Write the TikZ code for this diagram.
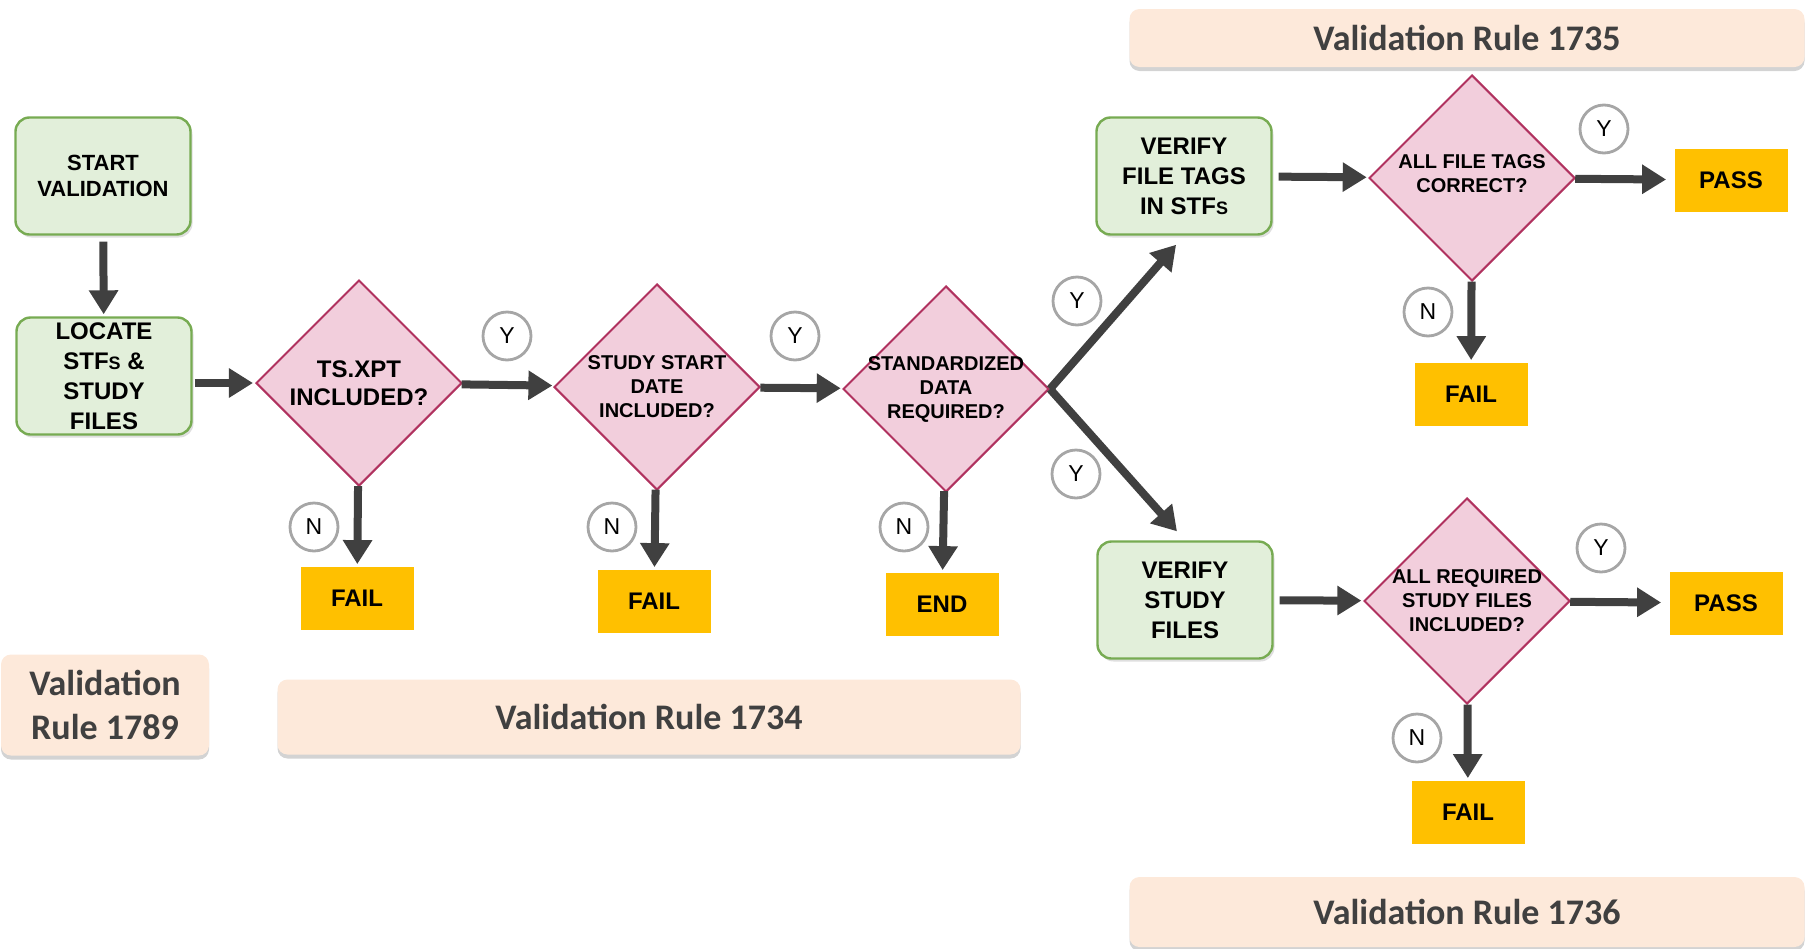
\documentclass[tikz,border=0pt]{standalone}
\usepackage{fontspec}
\setmainfont{Liberation Sans}
\newfontfamily\rulefont{Carlito}
\usetikzlibrary{shapes.geometric,arrows.meta,shadows}
\definecolor{boxgreen}{HTML}{E2EFDA}
\definecolor{linegreen}{HTML}{77AB52}
\definecolor{diafill}{HTML}{F2CEDC}
\definecolor{diaedge}{HTML}{B0325F}
\definecolor{resyellow}{HTML}{FFC000}
\definecolor{rulepeach}{HTML}{FDE9DA}
\definecolor{arrowgray}{HTML}{404040}
\definecolor{ringgray}{HTML}{A6A6A6}
\begin{document}
\begin{tikzpicture}[x=0.5pt, y=-0.5pt,
    gbox/.style={draw=linegreen, fill=boxgreen, line width=1.2pt, rounded corners=7pt,
      minimum width=87.5pt, minimum height=58.5pt, inner sep=0pt, align=center,
      font=\bfseries\fontsize{12}{15}\selectfont,
      drop shadow={shadow xshift=1pt, shadow yshift=-1.5pt, opacity=.25}},
    dia/.style={diamond, draw=diaedge, fill=diafill, line width=1pt,
      minimum width=103pt, minimum height=103pt, inner sep=0pt},
    dtext/.style={align=center, inner sep=0pt, font=\bfseries\fontsize{10}{12}\selectfont},
    res/.style={fill=resyellow, minimum width=56.5pt, minimum height=31.5pt,
      font=\bfseries\fontsize{12}{14}\selectfont},
    yn/.style={circle, draw=ringgray, line width=1.4pt, fill=white, minimum size=24pt,
      inner sep=0pt, font=\fontsize{11.5}{11.5}\selectfont},
    rulebox/.style={fill=rulepeach, rounded corners=5pt, text=arrowgray, align=center,
      font=\rulefont\bfseries\fontsize{18}{22}\selectfont,
      drop shadow={shadow xshift=0pt, shadow yshift=-2pt, opacity=.35}},
    arr/.style={draw=arrowgray, line width=4pt, -{Triangle[width=14pt,length=12pt]},
      shorten >=1pt}
  ]
  \useasboundingbox (0,0) rectangle (1810,948);
  \node[rulebox, minimum width=337.5pt, minimum height=29pt] (r5) at (1467,38) {Validation Rule 1735};
  \node[rulebox, minimum width=337.5pt, minimum height=35pt] (r6) at (1467,912) {Validation Rule 1736};
  \node[rulebox, minimum width=104pt, minimum height=50.5pt] (r9) at (105,705) {Validation\\Rule 1789};
  \node[rulebox, minimum width=371.5pt, minimum height=37.5pt] (r4) at (649,717) {Validation Rule 1734};
  \node[gbox, font=\bfseries\fontsize{11}{13.3}\selectfont] (s0) at (103,176) {START\\VALIDATION};
  \node[gbox] (s1) at (104,376) {LOCATE\\STF{\small S} \&\\STUDY\\FILES};
  \node[gbox] (v1) at (1184,176) {VERIFY\\FILE TAGS\\IN STF{\small S}};
  \node[gbox] (v2) at (1185,600) {VERIFY\\STUDY\\FILES};
  \node[dia] (d1) at (359,383) {};
  \node[dia] (d2) at (657,387) {};
  \node[dia] (d3) at (946,389) {};
  \node[dia] (d4) at (1472,178) {};
  \node[dia] (d5) at (1467,601) {};
  \node[dtext, font=\bfseries\fontsize{12}{14}\selectfont] (t1) at (d1) {TS.XPT\\INCLUDED?};
  \node[dtext] (t2) at (d2) {STUDY START\\DATE\\INCLUDED?};
  \node[dtext] (t3) at (d3) {STANDARDIZED\\DATA\\REQUIRED?};
  \node[dtext] (t4) at (1472,174) {ALL FILE TAGS\\CORRECT?};
  \node[dtext] (t5) at (1467,601) {ALL REQUIRED\\STUDY FILES\\INCLUDED?};
  \node[res] (f1) at (357,598) {FAIL};
  \node[res] (f2) at (654,601) {FAIL};
  \node[res] (e3) at (942,604) {END};
  \node[res] (p4) at (1731,180) {PASS};
  \node[res] (f4) at (1471,394) {FAIL};
  \node[res] (p5) at (1726,603) {PASS};
  \node[res] (f5) at (1468,812) {FAIL};
  \draw[arr, shorten <=3pt] (s0) -- (s1);
  \draw[arr, shorten <=1pt] (s1.east |- d1) -- (d1);
  \draw[arr] (d1) -- (d2);
  \draw[arr] (d2) -- (d3);
  \draw[arr, shorten >=6pt] (d3.east) -- (v1.south);
  \draw[arr, shorten >=6pt] (d3.east) -- (v2.north);
  \draw[arr] (d1) -- (f1);
  \draw[arr] (d2) -- (f2);
  \draw[arr] (d3) -- (e3);
  \draw[arr, shorten <=3pt] (v1) -- (d4);
  \draw[arr, shorten >=4pt] (d4) -- (p4);
  \draw[arr] (d4) -- (f4);
  \draw[arr, shorten <=3pt] (v2) -- (d5);
  \draw[arr, shorten >=4pt] (d5) -- (p5);
  \draw[arr] (d5) -- (f5);
  \node[yn] (y1) at (507,336) {Y};
  \node[yn] (n1) at (314,527) {N};
  \node[yn] (y2) at (795,336) {Y};
  \node[yn] (n2) at (612,527) {N};
  \node[yn] (n3) at (904,527) {N};
  \node[yn] (y3) at (1077,301) {Y};
  \node[yn] (y4) at (1076,474) {Y};
  \node[yn] (y5) at (1604,129) {Y};
  \node[yn] (n4) at (1428,312) {N};
  \node[yn] (y6) at (1601,548) {Y};
  \node[yn] (n5) at (1417,738) {N};
\end{tikzpicture}
\end{document}
